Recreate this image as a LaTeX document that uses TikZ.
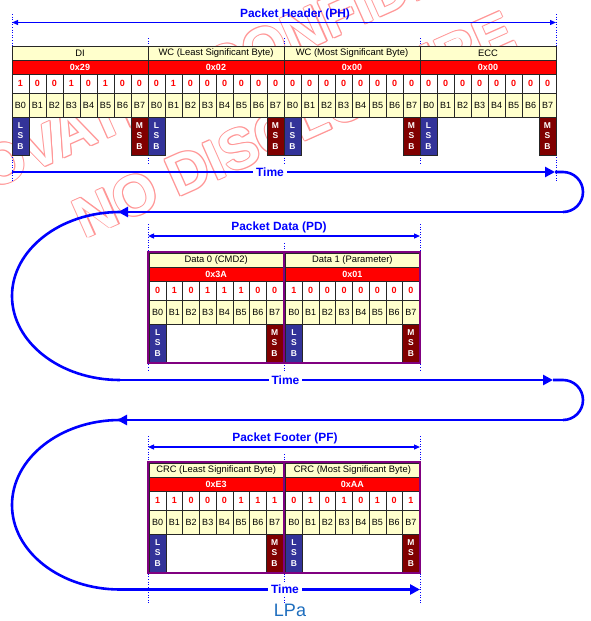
\documentclass[tikz,border=0pt]{standalone}
\usepackage{fontspec}
\setmainfont{Liberation Sans}
\usetikzlibrary{arrows.meta,calc}
\definecolor{cellyellow}{RGB}{255,255,204}
\definecolor{cellred}{RGB}{255,0,0}
\definecolor{lsbblue}{RGB}{51,51,153}
\definecolor{msbred}{RGB}{128,0,0}
\definecolor{boxpurple}{RGB}{128,0,128}
\definecolor{arrowblue}{RGB}{0,0,255}
\definecolor{lpablue}{RGB}{30,110,190}
\definecolor{wmpink}{RGB}{255,150,150}

\tikzset{
  cellbase/.style={draw=black!85, line width=0.6pt, inner sep=0pt, outer sep=0pt, anchor=north west},
  hdrcell/.style={cellbase, fill=cellyellow, font=\fontsize{9.4}{10}\selectfont},
  hexcell/.style={cellbase, fill=cellred, text=white, font=\fontsize{9}{10}\selectfont\bfseries},
  bitcell/.style={cellbase, fill=white, text=cellred, font=\fontsize{9}{10}\selectfont\bfseries},
  bcell/.style={cellbase, fill=cellyellow, font=\fontsize{9}{10}\selectfont},
  lsbcell/.style={cellbase, fill=lsbblue, text=white, font=\fontsize{8.5}{10.5}\selectfont\bfseries, align=center},
  msbcell/.style={cellbase, fill=msbred, text=white, font=\fontsize{8.5}{10.5}\selectfont\bfseries, align=center},
  gapcell/.style={cellbase, fill=white},
  pframe/.style={draw=boxpurple, line width=2.5pt, inner sep=0pt, outer sep=0pt, anchor=north west, minimum width=136pt, minimum height=111pt},
  guide/.style={draw=arrowblue, line width=0.8pt, dash pattern=on 1pt off 1.6pt},
  spanarrow/.style={draw=arrowblue, line width=1.2pt, {Triangle[length=6pt,width=5pt]}-{Triangle[length=6pt,width=5pt]}},
  spanlabel/.style={text=arrowblue, font=\fontsize{11.9}{14}\selectfont\bfseries, inner sep=1pt},
  timeline/.style={draw=arrowblue, line width=2.6pt},
  timetip/.style={timeline, -{Triangle[length=10pt,width=10pt]}},
  timelabel/.style={fill=white, text=arrowblue, font=\fontsize{12}{14}\selectfont\bfseries, inner sep=3pt},
  wm/.style={rotate=24, font=\fontsize{57}{60}\selectfont\bfseries, inner sep=0pt},
}

% #1 name, #2 left x, #3 bit width, #4 top y, #5 header, #6 hex, #7 bits, #8 gap box
\newcommand{\mkbyte}[8]{%
  \pgfmathsetmacro{\mycw}{#3}%
  \pgfmathsetmacro{\mybw}{8*#3}%
  \pgfmathsetmacro{\mygw}{6*#3}%
  \node[hdrcell, minimum width=\mybw pt, minimum height=14pt] (#1h) at ({#2},{#4}) {#5};
  \node[hexcell, minimum width=\mybw pt, minimum height=14pt] (#1x) at ({#2},{#4+14}) {#6};
  \foreach \bv [count=\i from 0] in {#7} {
    \node[bitcell, minimum width=\mycw pt, minimum height=19pt] (#1v\i) at ({#2+\i*#3},{#4+28}) {\bv};
    \node[bcell, minimum width=\mycw pt, minimum height=24pt] (#1b\i) at ({#2+\i*#3},{#4+47}) {B\i};
  }
  \ifnum#8=1
    \node[gapcell, minimum width=\mygw pt, minimum height=38pt] (#1g) at ({#2+#3},{#4+71}) {};
  \fi
  \node[lsbcell, minimum width=\mycw pt, minimum height=38pt] (#1l) at ({#2},{#4+71}) {L\\S\\B};
  \node[msbcell, minimum width=\mycw pt, minimum height=38pt] (#1m) at ({#2+7*#3},{#4+71}) {M\\S\\B};
}

\begin{document}
\begin{tikzpicture}[x=1pt,y=-1pt]
\useasboundingbox (0,0) rectangle (590,621);
\fill[white] (0,0) rectangle (590,621);

% watermark (outlined text)
\foreach \ang [count=\k] in {0,60,...,300} {
  \node[wm, text=wmpink] (wma\k) at ($(270,45)+(\ang:1.1pt)$) {NOVATEK CONFIDENTIAL};
  \node[wm, text=wmpink] (wmb\k) at ($(294,124.5)+(\ang:1.1pt)$) {NO DISCLOSURE};
}
\node[wm, text=white] (wma) at (270,45) {NOVATEK CONFIDENTIAL};
\node[wm, text=white] (wmb) at (294,124.5) {NO DISCLOSURE};

% guides
\foreach \gx/\ga/\gb in {12/14/182, 556/14/182, 148/38/164, 284/38/164, 420/38/164,
   148/224/372, 420/224/372, 284/243/372, 148/436/603, 420/436/603, 284/454/603}
  \draw[guide] (\gx,\ga) -- (\gx,\gb);

% span arrows
\coordinate (phL) at (12,22.5); \coordinate (phR) at (556,22.5);
\draw[spanarrow] (phL) -- (phR);
\node[spanlabel] (phT) at (295,14.5) {Packet Header (PH)};
\coordinate (pdL) at (148,236); \coordinate (pdR) at (420,236);
\draw[spanarrow] (pdL) -- (pdR);
\node[spanlabel] (pdT) at (279,227) {Packet Data (PD)};
\coordinate (pfL) at (148,447); \coordinate (pfR) at (420,447);
\draw[spanarrow] (pfL) -- (pfR);
\node[spanlabel] (pfT) at (285,438) {Packet Footer (PF)};

% packet header
\mkbyte{a}{12}{17}{46}{DI}{0x29}{1,0,0,1,0,1,0,0}{0}
\mkbyte{b}{148}{17}{46}{WC (Least Significant Byte)}{0x02}{0,1,0,0,0,0,0,0}{0}
\mkbyte{c}{284}{17}{46}{WC (Most Significant Byte)}{0x00}{0,0,0,0,0,0,0,0}{0}
\mkbyte{d}{420}{17}{46}{ECC}{0x00}{0,0,0,0,0,0,0,0}{0}

% packet data
\mkbyte{e}{149.3}{16.7}{253}{Data 0 (CMD2)}{0x3A}{0,1,0,1,1,1,0,0}{1}
\mkbyte{f}{285.6}{16.7}{253}{Data 1 (Parameter)}{0x01}{1,0,0,0,0,0,0,0}{1}
\node[pframe] (pdA) at (148,252) {};
\node[pframe] (pdB) at (284,252) {};

% packet footer
\mkbyte{g}{149.3}{16.7}{463}{CRC (Least Significant Byte)}{0xE3}{1,1,0,0,0,1,1,1}{1}
\mkbyte{h}{285.6}{16.7}{463}{CRC (Most Significant Byte)}{0xAA}{0,1,0,1,0,1,0,1}{1}
\node[pframe] (pfA) at (148,462) {};
\node[pframe] (pfB) at (284,462) {};

% time lines
\coordinate (t1a) at (12,172);  \coordinate (t1b) at (555,172);
\coordinate (r1a) at (563,172); \coordinate (r1b) at (563,212);
\coordinate (t2a) at (118,212); \coordinate (c1a) at (120,212);
\coordinate (c1b) at (120,380); \coordinate (t2b) at (553,380);
\coordinate (r2a) at (563,380); \coordinate (r2b) at (563,420);
\coordinate (t3a) at (117,420); \coordinate (c2a) at (120,420);
\coordinate (c2b) at (120,589.5); \coordinate (t3b) at (420,589.5);

\draw[timetip] (t1a) -- (t1b);
\draw[timeline] (t1b) -- (r1a) .. controls (574.05,172) and (583,180.95) .. (583,192) .. controls (583,203.05) and (574.05,212) .. (r1b);
\draw[timetip] (r1b) -- (t2a);
\draw[timeline] (c1a) .. controls (60.35,212) and (12,249.61) .. (12,296) .. controls (12,342.39) and (60.35,380) .. (c1b);
\draw[timetip] (c1b) -- (t2b);
\draw[timeline] (t2b) -- (r2a) .. controls (574.05,380) and (583,388.95) .. (583,400) .. controls (583,411.05) and (574.05,420) .. (r2b);
\draw[timetip] (r2b) -- (t3a);
\draw[timeline] (c2a) .. controls (60.35,420) and (12,458.33) .. (12,505) .. controls (12,551.67) and (60.35,589.5) .. (c2b);
\draw[timetip] (c2b) -- (t3b);

\node[timelabel] (tm1) at (270,172) {Time};
\node[timelabel] (tm2) at (285.5,380) {Time};
\node[timelabel] (tm3) at (285,589.5) {Time};

\node[text=lpablue, font=\fontsize{18}{20}\selectfont, inner sep=0pt] (lpa) at (290,610) {LPa};
\end{tikzpicture}
\end{document}
